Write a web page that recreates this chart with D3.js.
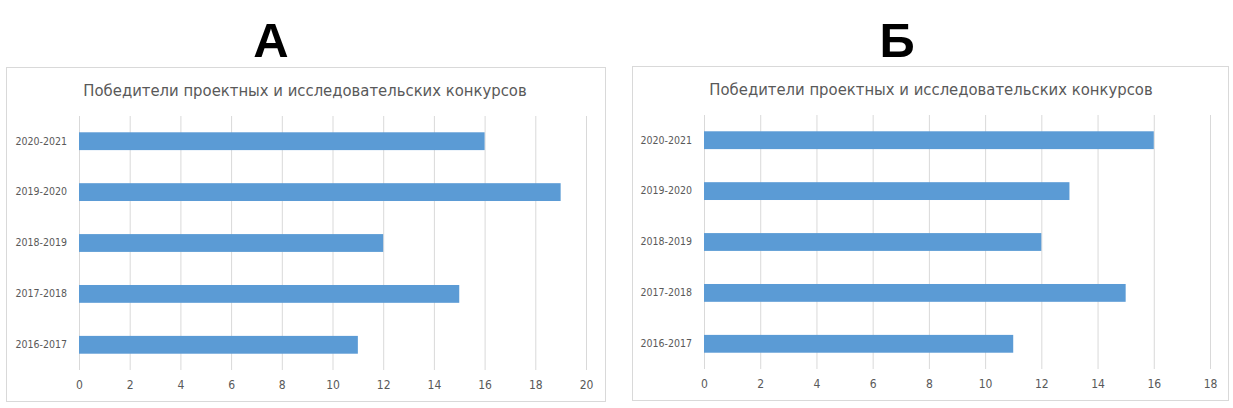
<!DOCTYPE html>
<html><head><meta charset="utf-8">
<script src="https://cdn.jsdelivr.net/npm/d3@7"></script>
<style>body{margin:0;background:#fff}svg{display:block}</style>
</head><body><svg id="c" width="1233" height="408"></svg>
<script>
const categories = ["2016-2017","2017-2018","2018-2019","2019-2020","2020-2021"];
const valuesA = [11, 15, 12, 19, 16];
const valuesB = [11, 15, 12, 13, 16];
const ticksA = [0,2,4,6,8,10,12,14,16,18,20];
const ticksB = [0,2,4,6,8,10,12,14,16,18];
const title = "Победители проектных и исследовательских конкурсов";
const panelLetters = ["А","Б"];

const svg = d3.select("#c");
const font = "'Liberation Sans Narrow','DejaVu Sans Condensed','Open Sans',sans-serif";

function panel(cfg){
  const g = svg.append("g");
  g.append("rect").attr("x",cfg.bx+0.5).attr("y",cfg.by+0.5).attr("width",cfg.bw).attr("height",cfg.bh)
    .attr("fill","#fff").attr("stroke","#d9d9d9");
  g.append("text").attr("x",cfg.letterX).attr("y",57).attr("text-anchor","middle")
    .attr("font-family","'Liberation Sans',Arial,sans-serif").attr("font-weight","bold")
    .attr("font-size",49).attr("fill","#000").text(cfg.letter);
  g.append("text").attr("x",cfg.titleX).attr("y",cfg.titleY).attr("text-anchor","middle")
    .attr("font-family",font).attr("font-size",16.5).attr("fill","#595959").text(title);
  const x = d3.scaleLinear().domain([0, cfg.ticks[cfg.ticks.length-1]]).range([cfg.x0, cfg.x1]);
  const y = d3.scaleBand().domain(categories.slice().reverse()).range([cfg.top, cfg.bottom]).paddingInner(0.65).paddingOuter(0.32);
  const xAxis = d3.axisBottom(x).tickValues(cfg.ticks).tickSize(-(cfg.bottom-cfg.top)).tickPadding(10);
  const ax = g.append("g").attr("transform",`translate(0,${cfg.bottom})`).call(xAxis);
  ax.select(".domain").remove();
  ax.selectAll(".tick line").attr("stroke","#d9d9d9");
  ax.selectAll(".tick text").attr("font-family",font).attr("font-size",12).attr("fill","#595959");
  g.selectAll("rect.bar").data(cfg.values).enter().append("rect").attr("class","bar")
    .attr("x",x(0)).attr("y",(d,i)=>y(categories[i])).attr("height",y.bandwidth())
    .attr("width",d=>x(d)-x(0)).attr("fill","#5b9bd5");
  const yAxis = d3.axisLeft(y).tickSize(0).tickPadding(12);
  const ay = g.append("g").attr("transform",`translate(${cfg.x0},0)`).call(yAxis);
  ay.select(".domain").remove();
  ay.selectAll(".tick text").attr("font-family",font).attr("font-size",10.5).attr("fill","#595959");
}

panel({bx:6,by:67,bw:599,bh:334,letter:panelLetters[0],letterX:271,titleX:305,titleY:96,
  x0:79,x1:586,top:116,bottom:370,values:valuesA,ticks:ticksA});
panel({bx:632,by:66,bw:596,bh:334,letter:panelLetters[1],letterX:897,titleX:931,titleY:95,
  x0:704,x1:1210,top:115,bottom:369,values:valuesB,ticks:ticksB});
</script></body></html>
